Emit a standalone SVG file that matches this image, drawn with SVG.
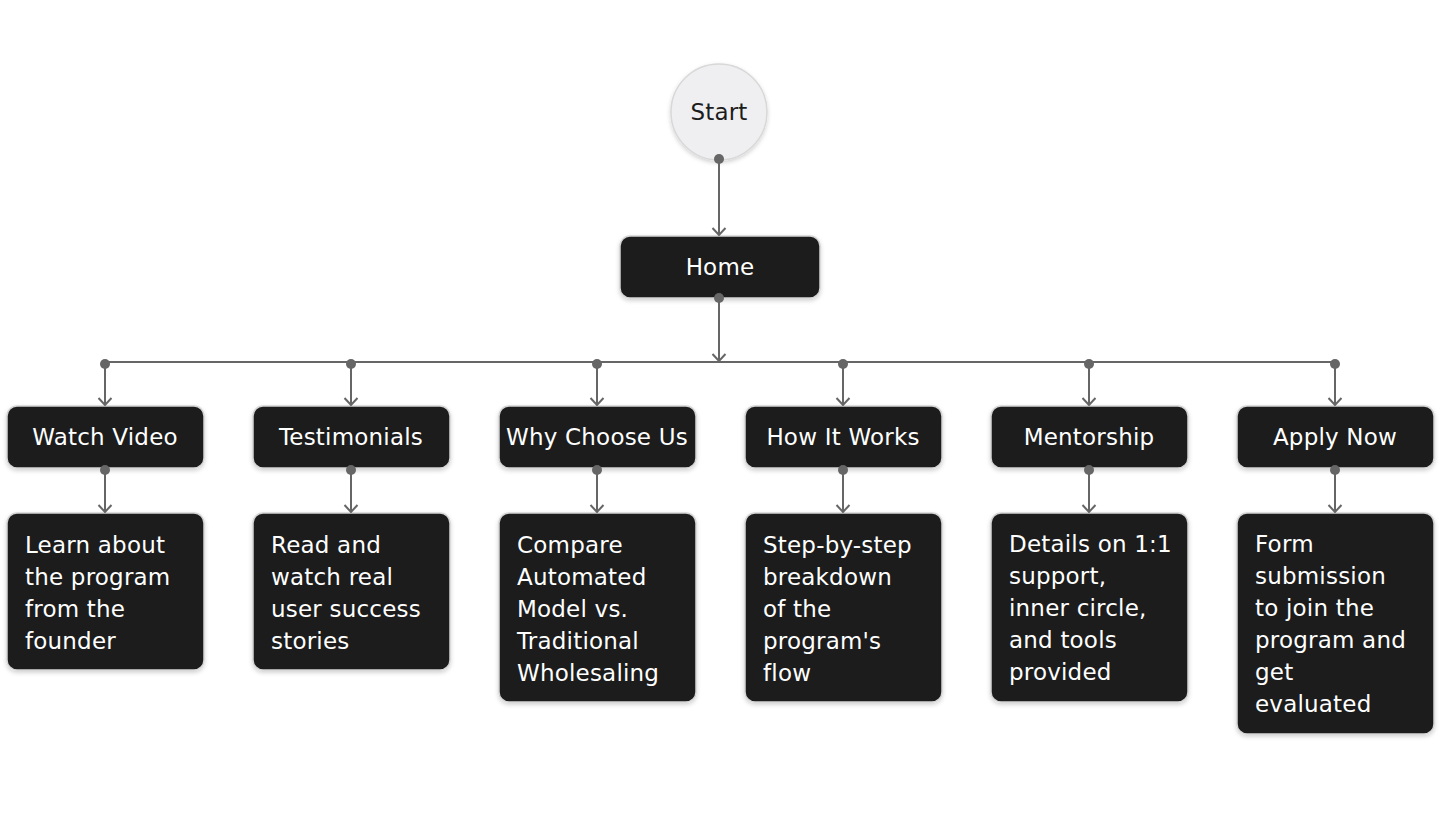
<svg xmlns="http://www.w3.org/2000/svg" width="1440" height="821" viewBox="0 0 1440 821">
<defs>
<style>
.box{fill:#1c1c1c;stroke:#d4d4d4;stroke-width:1.5;filter:url(#sh)}
.t{font-family:"DejaVu Sans","Open Sans",sans-serif;font-size:23px;letter-spacing:0.2px;fill:#ffffff}
.c{text-anchor:middle}
.ln{stroke:#666666;stroke-width:2;fill:none}
.dot{fill:#666666}
</style>
<filter id="sh" x="-10%" y="-10%" width="120%" height="130%">
<feDropShadow dx="0" dy="2" stdDeviation="2" flood-color="#000" flood-opacity="0.18"/>
</filter>
<marker id="ar" viewBox="0 0 10 16" refX="9" refY="8" markerWidth="10" markerHeight="16" markerUnits="userSpaceOnUse" orient="auto">
<path d="M2,1.5 L9,8 L2,14.5" fill="none" stroke="#666666" stroke-width="2"/>
</marker>
</defs>
<rect width="1440" height="821" fill="#ffffff"/>

<g id="start">
<circle cx="719" cy="112" r="48" fill="#efeff1" stroke="#d8d8d8" stroke-width="1.5" filter="url(#sh)"/>
<text class="t c" x="719" y="120" style="fill:#1c1c1c">Start</text>
</g>
<g id="home">
<rect class="box" x="620" y="236" width="200" height="62" rx="10"/>
<text class="t c" x="720" y="275">Home</text>
</g>

<g id="watch-video"><rect class="box" x="7" y="406" width="197" height="62" rx="10"/><text class="t c" x="105" y="445">Watch Video</text></g>
<g id="testimonials"><rect class="box" x="253" y="406" width="197" height="62" rx="10"/><text class="t c" x="351" y="445">Testimonials</text></g>
<g id="why-choose-us"><rect class="box" x="499" y="406" width="197" height="62" rx="10"/><text class="t c" x="597" y="445">Why Choose Us</text></g>
<g id="how-it-works"><rect class="box" x="745" y="406" width="197" height="62" rx="10"/><text class="t c" x="843" y="445">How It Works</text></g>
<g id="mentorship"><rect class="box" x="991" y="406" width="197" height="62" rx="10"/><text class="t c" x="1089" y="445">Mentorship</text></g>
<g id="apply-now"><rect class="box" x="1237" y="406" width="197" height="62" rx="10"/><text class="t c" x="1335" y="445">Apply Now</text></g>

<g id="watch-video-desc"><rect class="box" x="7" y="513" width="197" height="157" rx="10"/>
<text class="t" x="25" y="553">Learn about<tspan x="25" dy="32">the program</tspan><tspan x="25" dy="32">from the</tspan><tspan x="25" dy="32">founder</tspan></text></g>
<g id="testimonials-desc"><rect class="box" x="253" y="513" width="197" height="157" rx="10"/>
<text class="t" x="271" y="553">Read and<tspan x="271" dy="32">watch real</tspan><tspan x="271" dy="32">user success</tspan><tspan x="271" dy="32">stories</tspan></text></g>
<g id="why-choose-us-desc"><rect class="box" x="499" y="513" width="197" height="189" rx="10"/>
<text class="t" x="517" y="553">Compare<tspan x="517" dy="32">Automated</tspan><tspan x="517" dy="32">Model vs.</tspan><tspan x="517" dy="32">Traditional</tspan><tspan x="517" dy="32">Wholesaling</tspan></text></g>
<g id="how-it-works-desc"><rect class="box" x="745" y="513" width="197" height="189" rx="10"/>
<text class="t" x="763" y="553">Step-by-step<tspan x="763" dy="32">breakdown</tspan><tspan x="763" dy="32">of the</tspan><tspan x="763" dy="32">program's</tspan><tspan x="763" dy="32">flow</tspan></text></g>
<g id="mentorship-desc"><rect class="box" x="991" y="513" width="197" height="189" rx="10"/>
<text class="t" x="1009" y="552">Details on 1:1<tspan x="1009" dy="32">support,</tspan><tspan x="1009" dy="32">inner circle,</tspan><tspan x="1009" dy="32">and tools</tspan><tspan x="1009" dy="32">provided</tspan></text></g>
<g id="apply-now-desc"><rect class="box" x="1237" y="513" width="197" height="221" rx="10"/>
<text class="t" x="1255" y="552">Form<tspan x="1255" dy="32">submission</tspan><tspan x="1255" dy="32">to join the</tspan><tspan x="1255" dy="32">program and</tspan><tspan x="1255" dy="32">get</tspan><tspan x="1255" dy="32">evaluated</tspan></text></g>

<g id="connectors">
<path class="ln" d="M719,159 V235" marker-end="url(#ar)"/>
<circle class="dot" cx="719" cy="159" r="5"/>
<path class="ln" d="M719,298 V361" marker-end="url(#ar)"/>
<circle class="dot" cx="719" cy="298" r="5"/>
<path class="ln" d="M105,362 H1335"/>
<path class="ln" d="M105,364 V405" marker-end="url(#ar)"/>
<path class="ln" d="M351,364 V405" marker-end="url(#ar)"/>
<path class="ln" d="M597,364 V405" marker-end="url(#ar)"/>
<path class="ln" d="M843,364 V405" marker-end="url(#ar)"/>
<path class="ln" d="M1089,364 V405" marker-end="url(#ar)"/>
<path class="ln" d="M1335,364 V405" marker-end="url(#ar)"/>
<circle class="dot" cx="105" cy="364" r="5"/>
<circle class="dot" cx="351" cy="364" r="5"/>
<circle class="dot" cx="597" cy="364" r="5"/>
<circle class="dot" cx="843" cy="364" r="5"/>
<circle class="dot" cx="1089" cy="364" r="5"/>
<circle class="dot" cx="1335" cy="364" r="5"/>
<path class="ln" d="M105,470 V512" marker-end="url(#ar)"/>
<path class="ln" d="M351,470 V512" marker-end="url(#ar)"/>
<path class="ln" d="M597,470 V512" marker-end="url(#ar)"/>
<path class="ln" d="M843,470 V512" marker-end="url(#ar)"/>
<path class="ln" d="M1089,470 V512" marker-end="url(#ar)"/>
<path class="ln" d="M1335,470 V512" marker-end="url(#ar)"/>
<circle class="dot" cx="105" cy="470" r="5"/>
<circle class="dot" cx="351" cy="470" r="5"/>
<circle class="dot" cx="597" cy="470" r="5"/>
<circle class="dot" cx="843" cy="470" r="5"/>
<circle class="dot" cx="1089" cy="470" r="5"/>
<circle class="dot" cx="1335" cy="470" r="5"/>
</g>
</svg>
